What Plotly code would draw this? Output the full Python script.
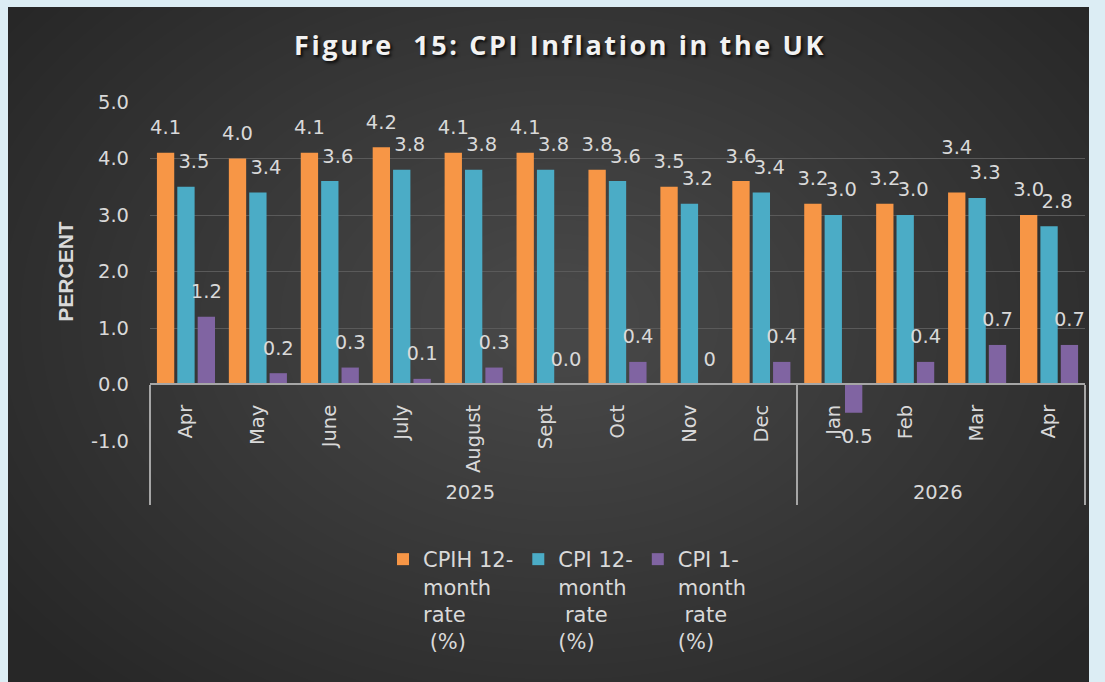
import plotly.graph_objects as go

# ---------------- data ----------------
years = ['2025'] * 9 + ['2026'] * 4
# second "Apr" carries a zero-width marker so it stays a distinct (last) category
months = ['Apr', 'May', 'June', 'July', 'August', 'Sept', 'Oct', 'Nov', 'Dec',
          'Jan', 'Feb', 'Mar', 'Apr\u200b']
cpih_12m = [4.1, 4.0, 4.1, 4.2, 4.1, 4.1, 3.8, 3.5, 3.6, 3.2, 3.2, 3.4, 3.0]
cpi_12m = [3.5, 3.4, 3.6, 3.8, 3.8, 3.8, 3.6, 3.2, 3.4, 3.0, 3.0, 3.3, 2.8]
cpi_1m = [1.2, 0.2, 0.3, 0.1, 0.3, 0.0, 0.4, 0.0, 0.4, -0.5, 0.4, 0.7, 0.7]
cpih_12m_labels = ['4.1', '4.0', '4.1', '4.2', '4.1', '4.1', '3.8', '3.5', '3.6',
                   '3.2', '3.2', '3.4', '3.0']
cpi_12m_labels = ['3.5', '3.4', '3.6', '3.8', '3.8', '3.8', '3.6', '3.2', '3.4',
                  '3.0', '3.0', '3.3', '2.8']
cpi_1m_labels = ['1.2', '0.2', '0.3', '0.1', '0.3', '0.0', '0.4', '0', '0.4',
                 '-0.5', '0.4', '0.7', '0.7']
series_names = ['CPIH 12-<br>month<br>rate<br> (%)',
                'CPI 12-<br>month<br> rate<br>(%)',
                'CPI 1-<br>month<br> rate<br>(%)']
y_ticks = [-1, 0, 1, 2, 3, 4, 5]
y_tick_text = ['-1.0', '0.0', '1.0', '2.0', '3.0', '4.0', '5.0']
title_text = 'Figure\u00a0 15: CPI Inflation in the UK'

# ---------------- layout geometry ----------------
W, H = 1105, 682
ML, MR, MT, MB = 150, 20, 102, 241
PW, PH = W - ML - MR, H - MT - MB


def fx(px):
    return (px - ML) / PW


def fy(py):
    return (H - MB - py) / PH


FONT = 'DejaVu Sans'
TXT = '#d9d9d9'
LBL = 19.5
LIFTED = {(0, 11)}          # (series, point) labels placed higher (Excel leader-line label)


def label_texts(series_idx, vals, labels, shift_right=False):
    out, sizes = [], []
    for i, (v, l) in enumerate(zip(vals, labels)):
        big = "<span style='font-size:%spx'>%s</span>" % (LBL, l)
        if shift_right:
            big = "<span style='font-size:16px'>\u2003</span>" + big
        tiny = "<span style='font-size:2px'>\u00a0</span>"
        if v < 0:
            out.append(tiny + '<br>' + big)
            sizes.append(LBL)
        else:
            out.append(big + '<br>' + tiny)
            sizes.append(27 if (series_idx, i) in LIFTED else 12)
    return out, sizes


x = [years, months]
fig = go.Figure()
for k, (vals, labels, name, color) in enumerate([
    (cpih_12m, cpih_12m_labels, series_names[0], '#F79646'),
    (cpi_12m, cpi_12m_labels, series_names[1], '#4BACC6'),
    (cpi_1m, cpi_1m_labels, series_names[2], '#8064A2'),
]):
    txt, sizes = label_texts(k, vals, labels, shift_right=(k == 1))
    fig.add_trace(go.Bar(
        x=x, y=vals, name=name, marker=dict(color=color, line=dict(width=0)),
        text=txt, texttemplate='%{text}', textposition='outside', textangle=0,
        constraintext='none', cliponaxis=False,
        textfont=dict(family=FONT, size=sizes, color=TXT),
    ))

# background: dark panel with soft radial highlight, light blue frame
shapes = [dict(type='rect', xref='paper', yref='paper', layer='below',
               x0=fx(8), x1=fx(1089), y0=fy(H + 5), y1=fy(7),
               fillcolor='#272727', line=dict(width=0))]
cx, cy = 560, 320
N = 32
for i in range(N):
    rx = 680 - i * 20
    ry = rx * 0.72
    shapes.append(dict(type='circle', xref='paper', yref='paper', layer='below',
                       x0=fx(cx - rx), x1=fx(cx + rx), y0=fy(cy + ry), y1=fy(cy - ry),
                       fillcolor='rgba(255,255,255,0.0062)', line=dict(width=0)))
frame = '#dcedf4'
for (a, b, c, d) in [(-5, 8, -5, H + 5), (-5, W + 5, -5, 7), (1089, W + 5, -5, H + 5)]:
    shapes.append(dict(type='rect', xref='paper', yref='paper', layer='below',
                       x0=fx(a), x1=fx(b), y0=fy(d), y1=fy(c),
                       fillcolor=frame, line=dict(width=0)))

fig.update_layout(
    width=W, height=H,
    margin=dict(l=ML, r=MR, t=MT, b=MB, autoexpand=False),
    paper_bgcolor=frame, plot_bgcolor='rgba(0,0,0,0)',
    font=dict(family=FONT, color=TXT, size=LBL),
    title=dict(text="<span style='letter-spacing:2.6px'>" + title_text + "</span>",
               x=560 / W, xanchor='center', y=1 - 46 / H, yanchor='middle',
               font=dict(family='Open Sans', size=27, weight=700, color='#f2f2f2',
                         shadow='2px 2px 3px rgba(0,0,0,0.8)')),
    barmode='group', bargap=0.15, bargroupgap=0.15,
    showlegend=True,
    legend=dict(orientation='h', x=fx(383), xanchor='left', y=fy(539), yanchor='top',
                valign='top', font=dict(family=FONT, size=21, color=TXT),
                bgcolor='rgba(0,0,0,0)', itemclick=False, traceorder='normal'),
    shapes=shapes,
    xaxis=dict(type='multicategory', anchor='free', position=fy(384),
               showline=True, linecolor='#a6a6a6', linewidth=2,
               tickangle=-90, tickfont=dict(family=FONT, size=LBL, color=TXT),
               ticklabelstandoff=12,
               showdividers=True, dividercolor='#a6a6a6', dividerwidth=2,
               showgrid=False, ticks='', automargin=False, zeroline=False),
    yaxis=dict(range=[-1, 5], tickvals=y_ticks, ticktext=y_tick_text,
               showgrid=True, gridcolor='#5a5a5a', gridwidth=1, zeroline=False,
               showline=False, ticks='', ticklabelstandoff=20,
               tickfont=dict(family=FONT, size=LBL, color=TXT),
               title=dict(text='PERCENT', standoff=11,
                          font=dict(family='Liberation Sans', size=21, weight=700, color=TXT)),
               automargin=False),
)

fig.write_html('out.html', config={'displayModeBar': False},
               post_script="document.body.style.margin='0';"
                           "document.body.style.background='#dcedf4';"
                           "document.body.style.overflow='hidden';")
